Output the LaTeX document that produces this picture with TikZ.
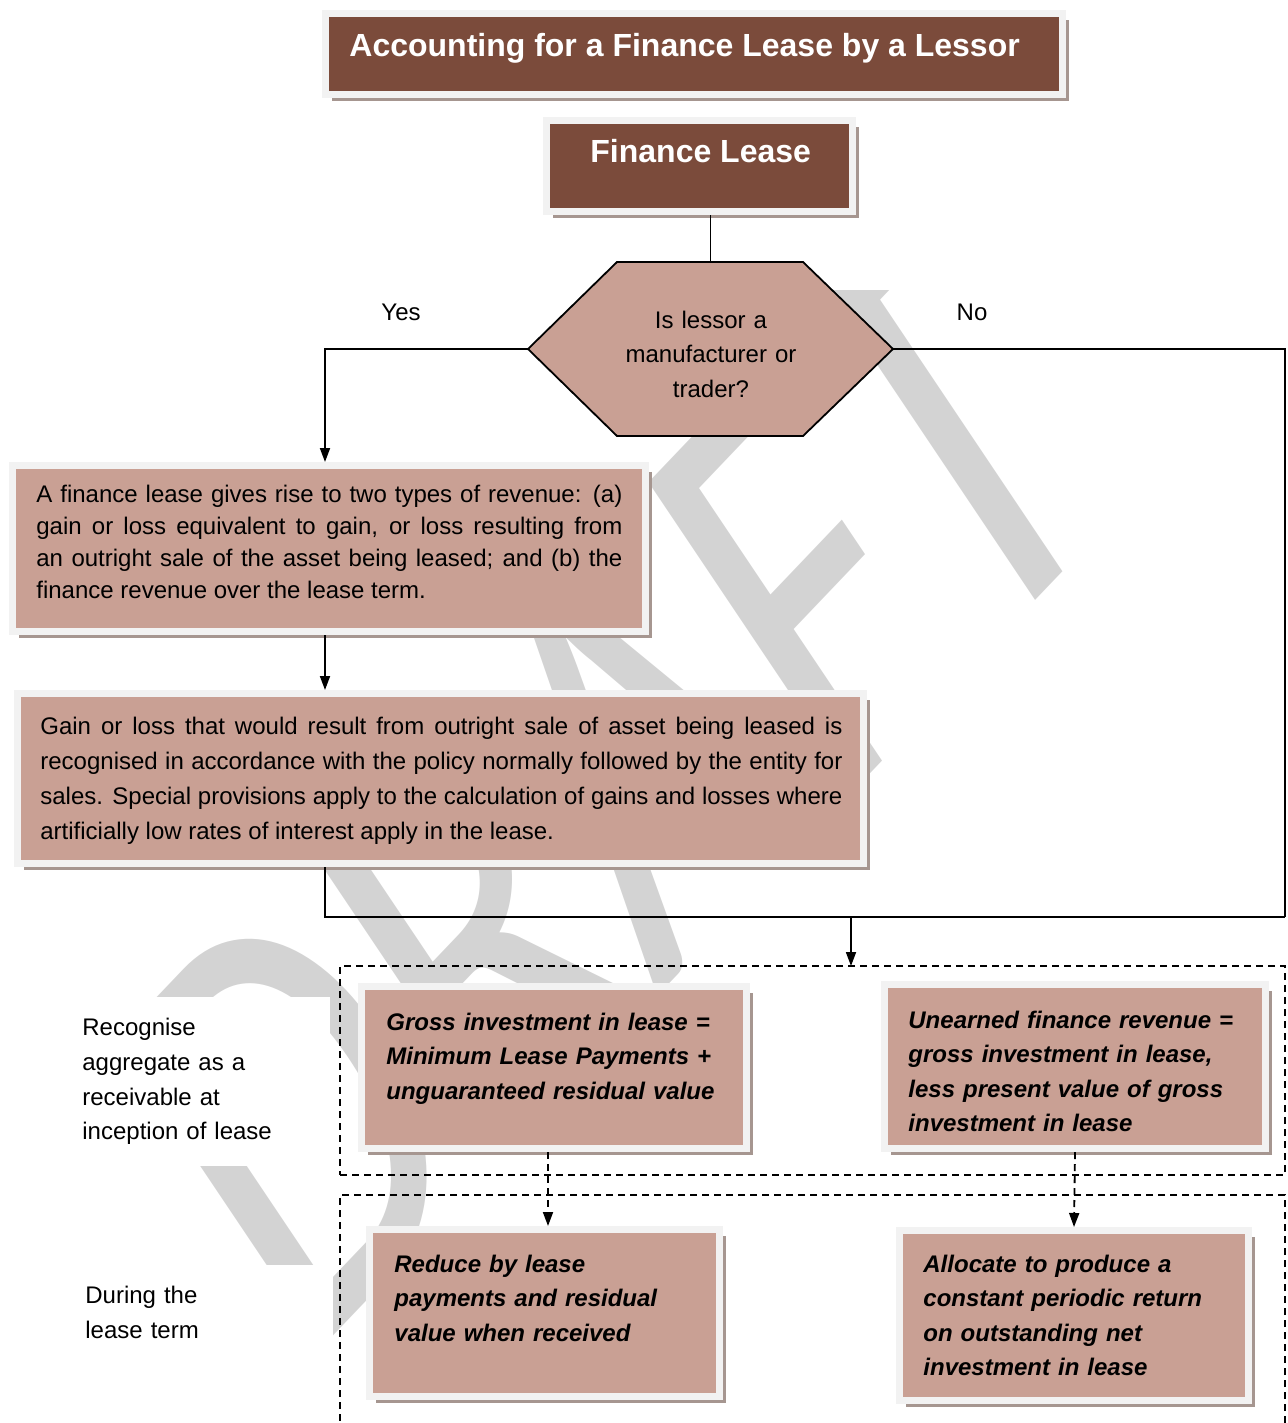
\documentclass[tikz,border=0pt]{standalone}
\usepackage{fontspec}
\setmainfont{Liberation Sans}
\newfontfamily\wmfont{Carlito}
\usetikzlibrary{arrows.meta,shadows,calc}
\definecolor{brownc}{RGB}{123,75,59}
\definecolor{pinkc}{RGB}{201,160,148}
\definecolor{framec}{RGB}{242,242,242}
\definecolor{shadowc}{RGB}{166,150,144}
\definecolor{wmc}{RGB}{211,211,211}
\pgfdeclarelayer{wm}
\pgfdeclarelayer{bg}
\pgfsetlayers{wm,bg,main}
\begin{document}
\begin{tikzpicture}[x=0.5pt,y=-0.5pt,
  conn/.style={draw=black, line width=0.9pt},
  dconn/.style={conn, dash pattern=on 3.5pt off 2.5pt},
  arr/.style={-{Triangle[length=7pt,width=5pt]}},
  dbox/.style={draw=black, line width=0.75pt, dash pattern=on 3.5pt off 2.5pt, inner sep=0pt, outer sep=0pt},
  box/.style={fill=pinkc, draw=framec, line width=3.5pt, outer sep=1.75pt, inner sep=0pt,
    drop shadow={shadow xshift=3.25pt, shadow yshift=-3.25pt, fill=shadowc, opacity=1}},
  hbox/.style={box, fill=brownc},
  hexs/.style={fill=pinkc, draw=black, line width=0.9pt, line join=miter},
  hexnode/.style={inner sep=0pt, outer sep=0pt},
  txt/.style={inner sep=0pt, align=left, font=\fontsize{12pt}{17.3pt}\selectfont},
  bitxt/.style={inner sep=0pt, text width=185pt, align=left, font=\fontsize{12pt}{17.3pt}\selectfont\bfseries\itshape},
  ttl/.style={inner sep=0pt, text=white, font=\fontsize{16pt}{19pt}\selectfont\bfseries},
  lab/.style={fill=white, inner xsep=7.5pt, inner ysep=10.5pt, text width=116.5pt, align=left,
    font=\fontsize{12pt}{17.3pt}\selectfont, anchor=north west},
  wmark/.style={text=wmc, inner sep=0pt, yscale=1.25, rotate=40, xscale=0.8, font=\wmfont\fontsize{250pt}{250pt}\selectfont}
]
\useasboundingbox (0,0) rectangle (1287,1423);

% watermark
\begin{pgfonlayer}{wm}
\node[wmark] (wm) at (610,785) {DRAFT};
\fill[white] (700,105) rectangle (1000,290);
\end{pgfonlayer}

% dashed groups
\node[dbox, minimum width=472.5pt, minimum height=104.5pt] (dash1) at (812.5,1070.5) {};
\node[dbox, minimum width=472.5pt, minimum height=127.5pt] (dash2) at (812.5,1322.5) {};

% boxes
\node[hbox, minimum width=368.5pt, minimum height=40.5pt] (title) at (694,54) {};
\node[hbox, minimum width=153pt, minimum height=45.5pt] (fl) at (699.5,166) {};
\node[box, minimum width=316.5pt, minimum height=83pt] (box1) at (329,548.5) {};
\node[box, minimum width=423pt, minimum height=85pt] (box2) at (440.5,778.5) {};
\node[box, minimum width=192.5pt, minimum height=81pt] (box3) at (554,1067.5) {};
\node[box, minimum width=190.5pt, minimum height=82pt] (box4) at (1075,1066.5) {};
\node[box, minimum width=175pt, minimum height=83.5pt] (box5) at (544.5,1313) {};
\node[box, minimum width=174.5pt, minimum height=85pt] (box6) at (1074,1315.5) {};

% hexagon decision
\node[hexnode, minimum width=182.5pt, minimum height=87pt] (hex) at (710.5,349) {};
\begin{pgfonlayer}{bg}
\draw[hexs] (hex.west) -- ([xshift=44.5pt]hex.north west) -- ([xshift=-45pt]hex.north east)
  -- (hex.east) -- ([xshift=-45pt]hex.south east) -- ([xshift=44.5pt]hex.south west) -- cycle;
\end{pgfonlayer}

% texts
\node[ttl, anchor=base west] (titletxt) at (349,57) {Accounting for a Finance Lease by a Lessor};
\node[ttl, anchor=base west] (fltxt) at (590,163) {Finance Lease};
\node[txt, text width=170pt, align=center, anchor=base] (hextxt) at (711,328) {Is lessor a\\manufacturer or\\trader?};
\node[txt, anchor=base] (yes) at (401,320) {Yes};
\node[txt, anchor=base] (no) at (972,320) {No};
\node[txt, text width=293pt, align=justify, anchor=base west, font=\fontsize{12pt}{16pt}\selectfont] (b1txt) at (36,502)
  {A finance lease gives rise to two types of revenue: (a)\linebreak gain or loss equivalent to gain, or loss resulting from\linebreak an outright sale of the asset being leased; and (b) the\linebreak finance revenue over the lease term.};
\node[txt, text width=401pt, align=justify, anchor=base west, font=\fontsize{12pt}{17.5pt}\selectfont] (b2txt) at (40,734)
  {Gain or loss that would result from outright sale of asset being leased is\linebreak recognised in accordance with the policy normally followed by the entity for\linebreak sales. Special provisions apply to the calculation of gains and losses where\linebreak artificially low rates of interest apply in the lease.};
\node[bitxt, anchor=base west] (b3txt) at (386,1030) {Gross investment in lease =\\Minimum Lease Payments +\\unguaranteed residual value};
\node[bitxt, anchor=base west] (b4txt) at (908,1028) {Unearned finance revenue =\\gross investment in lease,\\less present value of gross\\investment in lease};
\node[bitxt, anchor=base west] (b5txt) at (394,1272) {Reduce by lease\\payments and residual\\value when received};
\node[bitxt, anchor=base west] (b6txt) at (923,1272) {Allocate to produce a\\constant periodic return\\on outstanding net\\investment in lease};

% side labels
\node[lab] (lab1) at (67,997) {Recognise\\aggregate as a\\receivable at\\inception of lease};
\node[lab] (lab2) at (70,1265) {During the\\lease term};

% connectors
\coordinate (ax) at (325,0);
\coordinate (rc) at (1285,917);
\coordinate (mj) at (851,917);
\coordinate (c1) at (548,0);
\draw[conn] (hex.north) -- (hex.north |- fl.south);
\draw[conn, arr] (hex.west) -| (box1.north -| ax);
\draw[conn, arr] (box1.south -| ax) -- (box2.north -| ax);
\draw[conn] (hex.east) -| (rc);
\draw[conn] (box2.south -| ax) |- (rc);
\draw[conn, arr] (mj) -- (mj |- dash1.north);
\draw[dconn, arr] (box3.south -| c1) -- (box5.north -| c1);
\draw[dconn, arr] (box4.south) -- (box6.north);
\end{tikzpicture}
\end{document}
